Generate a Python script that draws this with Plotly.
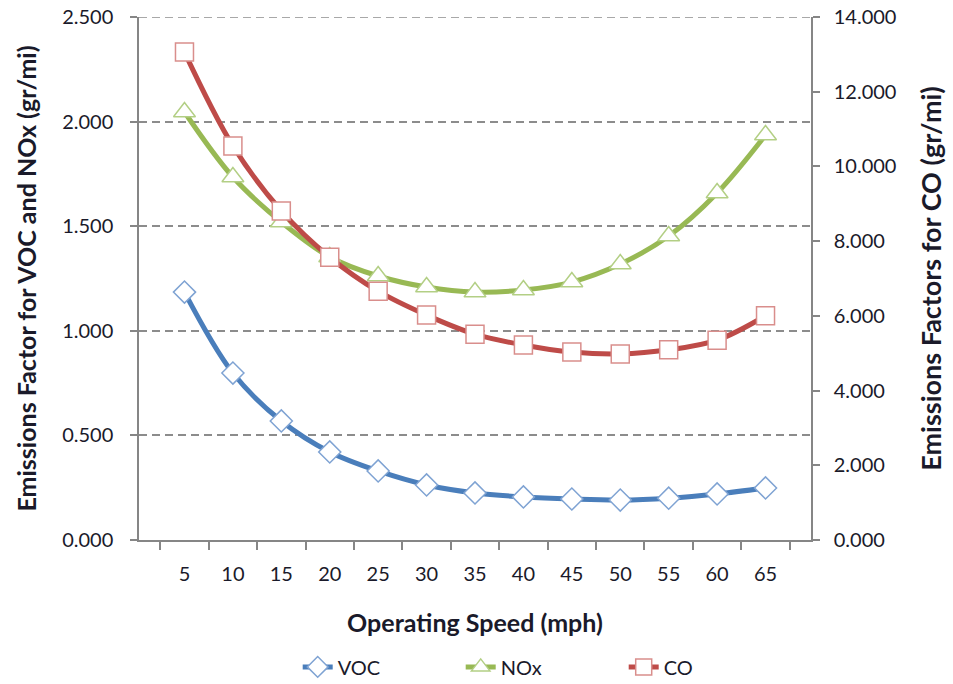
import plotly.graph_objects as go

speeds = ["5", "10", "15", "20", "25", "30", "35", "40", "45", "50", "55", "60", "65"]
voc = [1.185, 0.798, 0.569, 0.421, 0.330, 0.263, 0.225, 0.206, 0.196, 0.191, 0.200, 0.220, 0.249]
nox = [2.046, 1.735, 1.520, 1.353, 1.262, 1.209, 1.185, 1.195, 1.233, 1.319, 1.453, 1.659, 1.936]
co = [13.06, 10.55, 8.81, 7.57, 6.66, 6.02, 5.51, 5.22, 5.03, 4.98, 5.09, 5.35, 6.00]

FONT = "Lato"
TXT = "#1a1a2a"
AX = "#868686"
fig = go.Figure()
fig.add_trace(go.Scatter(
    x=speeds, y=voc, name="VOC", mode="lines+markers", line=dict(color="#4a7ebb", width=5, shape="spline"),
    marker=dict(symbol="diamond", size=17, color="white", line=dict(color="#7fa3d3", width=1.5))))
fig.add_trace(go.Scatter(
    x=speeds, y=nox, name="NOx", mode="lines+markers", line=dict(color="#98b954", width=5, shape="spline"),
    marker=dict(symbol="triangle-up", size=19, color="white", line=dict(color="#b3cf85", width=1.5))))
fig.add_trace(go.Scatter(
    x=speeds, y=co, name="CO", mode="lines+markers", yaxis="y2", line=dict(color="#be4b48", width=5, shape="spline"),
    marker=dict(symbol="square", size=18, color="white", line=dict(color="#d98e8c", width=1.5))))

fig.add_shape(type="line", xref="paper", yref="y", x0=0, x1=1, y0=2.5, y1=2.5,
              line=dict(color="#8c8c8c", width=1.5, dash="8px,5px"), layer="below")

fig.update_layout(
    width=953, height=684,
    margin=dict(l=139, r=142, t=17, b=144),
    plot_bgcolor="white", paper_bgcolor="white",
    font=dict(family=FONT, size=20, color=TXT),
    showlegend=True,
    legend=dict(orientation="h", x=0.60, xanchor="center", yref="container", y=0.025, yanchor="middle",
                font=dict(size=20), entrywidth=118, entrywidthmode="pixels"),
    xaxis=dict(type="category", tickson="boundaries", ticks="outside", ticklen=8, tickcolor=AX, tickwidth=1.5,
               showline=True, linecolor=AX, linewidth=1.5, showgrid=False, automargin=False,
               tickfont=dict(size=20), ticklabelstandoff=15,
               title=dict(text="<b>Operating Speed (mph)</b>", font=dict(size=25), standoff=31)),
    yaxis=dict(range=[0, 2.5], dtick=0.5, tickformat=".3f", ticks="outside", ticklen=7, tickcolor=AX, tickwidth=1.5,
               showline=True, linecolor=AX, linewidth=1.5, showgrid=True, gridcolor="#8c8c8c",
               griddash="8px,5px", gridwidth=1.5, zeroline=False, automargin=False,
               tickfont=dict(size=20), ticklabelstandoff=13,
               title=dict(text="<b>Emissions Factor for VOC and NOx (gr/mi)</b>", font=dict(size=25), standoff=18)),
    yaxis2=dict(range=[0, 14], dtick=2, tickformat=".3f", ticks="outside", ticklen=7, tickcolor=AX, tickwidth=1.5,
                overlaying="y", side="right", showline=True, linecolor=AX, linewidth=1.5,
                showgrid=False, zeroline=False, automargin=False,
                tickfont=dict(size=20), ticklabelstandoff=10,
                title=dict(text="<b>Emissions Factors for CO (gr/mi)</b>", font=dict(size=27), standoff=27)),
)
fig.write_html("out.html")
